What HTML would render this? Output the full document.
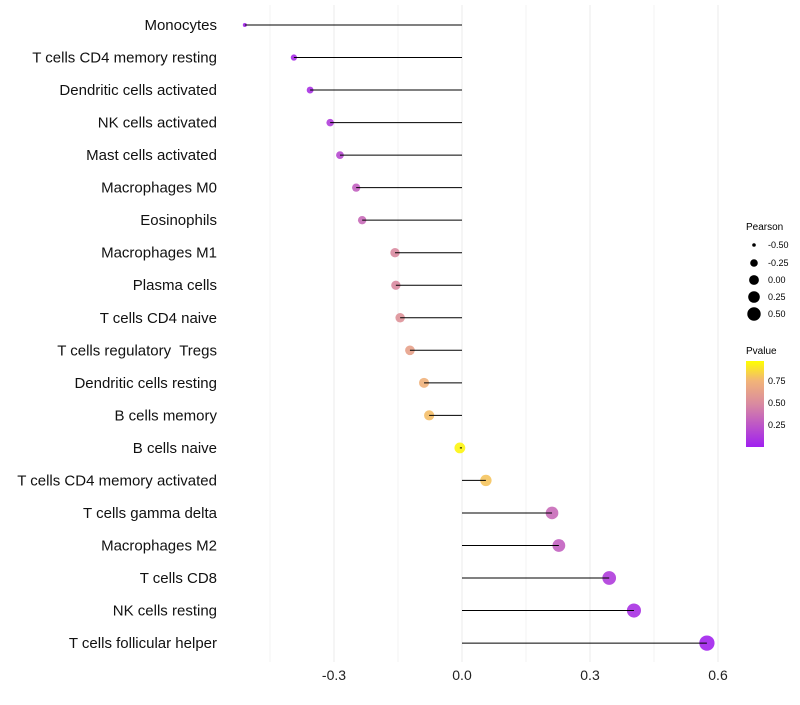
<!DOCTYPE html>
<html><head><meta charset="utf-8"><style>
body{margin:0;background:#fff;font-family:"Liberation Sans",sans-serif;}
text{white-space:pre;}
</style></head><body>
<svg id="chart" width="800" height="700" xmlns="http://www.w3.org/2000/svg" font-family="Liberation Sans, sans-serif">
<defs>
<linearGradient id="pg" x1="0" y1="1" x2="0" y2="0">
<stop offset="0" stop-color="#a020f0"/><stop offset="0.5" stop-color="#d98aa0"/><stop offset="0.77" stop-color="#f2b478"/><stop offset="1" stop-color="#ffff00"/>
</linearGradient>
</defs>
<g id="grid"></g><g id="points"></g><g id="marks"></g><g id="labels"></g>
<g font-size="9">
<text x="746" y="230" font-size="10">Pearson</text>
<circle cx="754" cy="245" r="1.8" fill="#000"/><text x="768" y="248">-0.50</text>
<circle cx="754" cy="263" r="3.8" fill="#000"/><text x="768" y="266">-0.25</text>
<circle cx="754" cy="280" r="4.9" fill="#000"/><text x="768" y="283">0.00</text>
<circle cx="754" cy="297" r="5.8" fill="#000"/><text x="768" y="300">0.25</text>
<circle cx="754" cy="314" r="6.7" fill="#000"/><text x="768" y="317">0.50</text>
</g>
<g font-size="9">
<text x="746" y="354" font-size="10">Pvalue</text>
<rect x="746" y="361" width="18" height="86" fill="url(#pg)"/>
<text x="768" y="384">0.75</text><text x="768" y="406">0.50</text><text x="768" y="428">0.25</text>
</g>
</svg>
<script>
const categories=["Monocytes","T cells CD4 memory resting","Dendritic cells activated","NK cells activated","Mast cells activated","Macrophages M0","Eosinophils","Macrophages M1","Plasma cells","T cells CD4 naive","T cells regulatory  Tregs","Dendritic cells resting","B cells memory","B cells naive","T cells CD4 memory activated","T cells gamma delta","Macrophages M2","T cells CD8","NK cells resting","T cells follicular helper"];
const pearson=[-0.509,-0.394,-0.356,-0.309,-0.286,-0.248,-0.234,-0.157,-0.155,-0.145,-0.122,-0.089,-0.077,-0.005,0.056,0.211,0.227,0.345,0.403,0.574];
const pvalues=[0.03,0.05,0.08,0.14,0.2,0.3,0.35,0.5,0.5,0.55,0.65,0.75,0.8,0.97,0.82,0.35,0.3,0.13,0.08,0.02];
const tickValues=[-0.3,0.0,0.3,0.6];
const tickLabels=["-0.3","0.0","0.3","0.6"];
const NS="http://www.w3.org/2000/svg";
const x=v=>462+v*426.67;
const y=i=>25+i*32.53;
const rad=v=>Math.sqrt(Math.max(2.5,4+50*(v+0.51)));
function col(p){
 const st=[[0,[160,32,240]],[0.5,[217,138,160]],[0.77,[242,180,120]],[1,[255,255,0]]];
 for(let k=1;k<st.length;k++){if(p<=st[k][0]){const a=st[k-1],b=st[k],t=(p-a[0])/(b[0]-a[0]);return 'rgb('+a[1].map((c,j)=>Math.round(c+(b[1][j]-c)*t)).join(',')+')';}}
 return 'rgb(255,255,0)';
}
function mk(t,a,parent){const e=document.createElementNS(NS,t);for(const k in a)e.setAttribute(k,a[k]);parent.appendChild(e);return e;}
const grid=document.getElementById('grid'),marks=document.getElementById('marks'),labels=document.getElementById('labels'),points=document.getElementById('points');
for(let v=-0.45;v<=0.61;v+=0.15){
 const l=mk('line',{x1:x(v),x2:x(v),y1:5,y2:662,stroke:'#ebebeb','stroke-width':Math.abs(Math.round(v/0.15))%2?0.6:1},grid);
 
 
}
tickValues.forEach((v,i)=>{
 const t=mk('text',{x:x(v),y:680,'text-anchor':'middle','font-size':14,fill:'#222'},labels);
 t.textContent=tickLabels[i];
 
 
});
categories.forEach((c,i)=>{
 const t=mk('text',{x:217,y:y(i)+5,'text-anchor':'end','font-size':15,fill:'#111'},labels);
 t.textContent=c;
 
 
 const d=mk('circle',{cx:x(pearson[i]),cy:y(i),r:rad(pearson[i]),fill:col(pvalues[i]),'fill-opacity':0.9},points);
 
 
 const s=mk('line',{x1:x(0),x2:x(pearson[i]),y1:y(i),y2:y(i),stroke:'#000','stroke-width':1},marks);
 
 
});
</script>
</body></html>
